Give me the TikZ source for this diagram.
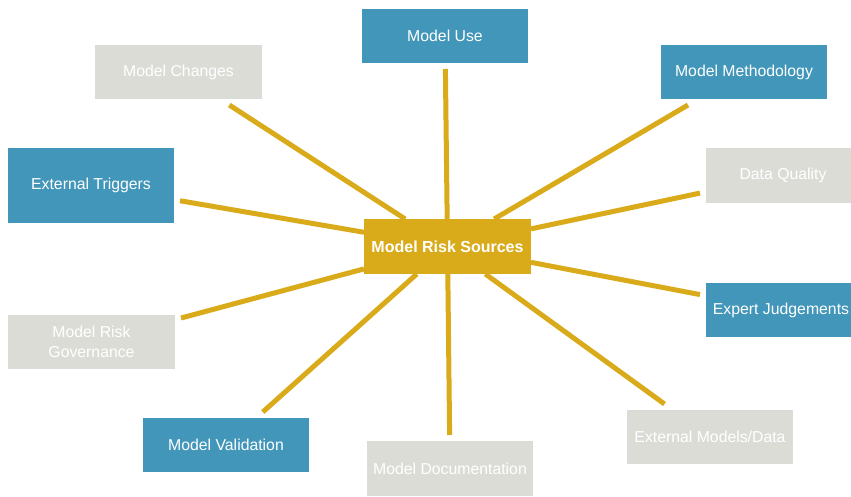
\documentclass[tikz,border=0pt]{standalone}
\usepackage{fontspec}
\setmainfont{Liberation Sans}
\definecolor{mblue}{RGB}{65,150,185}
\definecolor{mgold}{RGB}{217,171,26}
\definecolor{mgrey}{RGB}{220,220,215}
\begin{document}
\begin{tikzpicture}[x=1pt,y=-1pt,
  box/.style={minimum width=166pt, minimum height=54pt, inner sep=0pt, outer sep=6pt,
    text=white, font=\fontsize{15.8}{19.5}\selectfont, align=center},
  bluebox/.style={box, fill=mblue},
  greybox/.style={box, fill=mgrey},
  hub/.style={fill=mgold, minimum width=167pt, minimum height=55pt, inner sep=0pt,
    outer sep=0pt, text=white, font=\bfseries\fontsize{16}{19.5}\selectfont},
  link/.style={draw=mgold, line width=5pt}]
\useasboundingbox (0,0) rectangle (851,496);
\node[hub] (c) at (447.5,246.5) {Model Risk Sources};
\node[bluebox] (use) at (445,36) {Model Use};
\node[greybox, minimum width=167pt] (chg) at (178.5,72) {Model Changes};
\node[bluebox] (meth) at (744,72) {Model Methodology};
\node[bluebox, minimum height=75pt] (ext) at (91,185.5) {External Triggers};
\node[greybox, minimum width=154pt, minimum height=55pt] (dq) at (783,175.5) {Data Quality};
\node[bluebox, minimum width=150pt] (exp) at (781,310) {Expert Judgements};
\node[greybox, minimum width=167pt] (gov) at (91.5,342) {Model Risk\\Governance};
\node[bluebox] (val) at (226,445) {Model Validation};
\node[greybox, minimum height=55pt] (doc) at (450,468.5) {Model Documentation};
\node[greybox] (emd) at (710,437) {External Models/Data};
\foreach \n in {use,chg,meth,ext,dq,exp,gov,val,doc,emd}
  \draw[link] (\n) -- (c);
\end{tikzpicture}
\end{document}
